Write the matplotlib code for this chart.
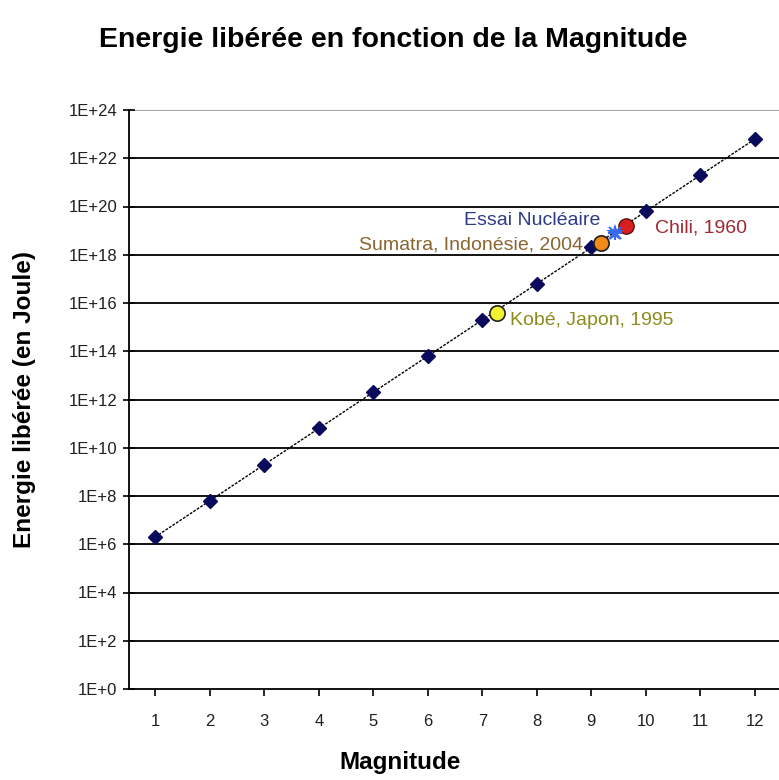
import matplotlib
matplotlib.use("Agg")
import matplotlib.pyplot as plt
from matplotlib.ticker import FixedLocator, NullLocator

# ── data ──────────────────────────────────────────────────────────────────
magnitudes = [1, 2, 3, 4, 5, 6, 7, 8, 9, 10, 11, 12]
energies = [2e6, 6.3e7, 2e9, 6.3e10, 2e12, 6.3e13,
            2e15, 6.3e16, 2e18, 6.3e19, 2e21, 6.3e22]

# notable events: (magnitude, energy)
kobe = (7.27, 3.9e15)
sumatra = (9.18, 3.1e18)
essai = (9.44, 8e18)
chili = (9.63, 1.6e19)

y_ticks = [10.0 ** k for k in range(0, 25, 2)]
y_labels = ["1E+%d" % k for k in range(0, 25, 2)]

FONT = "Liberation Sans"
NAVY = "#0B0B5E"

fig = plt.figure(figsize=(7.79, 7.80), dpi=100)
ax = fig.add_axes([129 / 779, 1 - 689 / 780, 650 / 779, 579 / 780])

ax.set_yscale("log")
ax.set_ylim(1, 1e24)
ax.set_xlim(0.52, 12.44)

# horizontal gridlines every two decades
for i, yv in enumerate(y_ticks[1:]):
    color = "#9A9A9A" if i == len(y_ticks) - 2 else "black"
    ax.axhline(yv, color=color, lw=1.3, zorder=1)

# main series
ax.plot(magnitudes, energies, color="black", lw=1.0, ls=(0, (2, 1)), zorder=3)
ax.plot(magnitudes, energies, ls="none", marker="D", ms=7,
        mfc=NAVY, mec=NAVY, zorder=4)

# events
ax.plot(*kobe, marker="o", ms=11, mfc="#F2F230", mec="#202020", mew=1.2, zorder=6)
ax.plot(*sumatra, marker="o", ms=11, mfc="#F08A1A", mec="#202020", mew=1.2, zorder=6)
ax.plot(*chili, marker="o", ms=11, mfc="#D81E1E", mec="#5A1010", mew=1.0, zorder=5)
ax.plot(*essai, marker="*", ms=13, color="#3A6AF0", mew=0, zorder=7)
ax.plot(*essai, marker="+", ms=10, color="#3A6AF0", mew=1.5, zorder=7)
ax.plot(*essai, marker="x", ms=8, color="#3A6AF0", mew=1.5, zorder=7)

tk = dict(fontsize=14, family=FONT)
ax.text(7.5, 1.8e15, "Kobé, Japon, 1995", color="#8C8C1E", ha="left", va="center", **tk)
ax.text(8.85, 2.5e18, "Sumatra, Indonésie, 2004", color="#8A6530", ha="right", va="center", **tk)
ax.text(9.16, 2.6e19, "Essai Nucléaire", color="#2E3A8A", ha="right", va="center", **tk)
ax.text(10.17, 1.3e19, "Chili, 1960", color="#A02830", ha="left", va="center", **tk)

# axes styling
for side in ("top", "right"):
    ax.spines[side].set_visible(False)
ax.spines["left"].set_linewidth(1.3)
ax.spines["bottom"].set_linewidth(1.3)

ax.yaxis.set_major_locator(FixedLocator(y_ticks))
ax.yaxis.set_minor_locator(NullLocator())
ax.set_yticklabels(y_labels, fontsize=12, family=FONT, color="#202020")
ax.tick_params(axis="y", direction="inout", length=9, width=1.2, pad=4)

ax.xaxis.set_major_locator(FixedLocator(magnitudes))
ax.set_xticklabels([str(m) for m in magnitudes], fontsize=12, family=FONT, color="#202020")
ax.tick_params(axis="x", direction="out", length=5, width=1.2, pad=13)

fig.text(393 / 779, 1 - 40 / 780, "Energie libérée en fonction de la Magnitude",
         ha="center", va="center", fontsize=20.5, fontweight="bold", family=FONT)
fig.text(400 / 779, 1 - 763 / 780, "Magnitude", ha="center", va="center",
         fontsize=17.5, fontweight="bold", family=FONT)
fig.text(25 / 779, 1 - 400 / 780, "Energie libérée (en Joule)", ha="center", va="center",
         rotation=90, fontsize=17.5, fontweight="bold", family=FONT)

fig.savefig("out.png", dpi=100, facecolor="white")
